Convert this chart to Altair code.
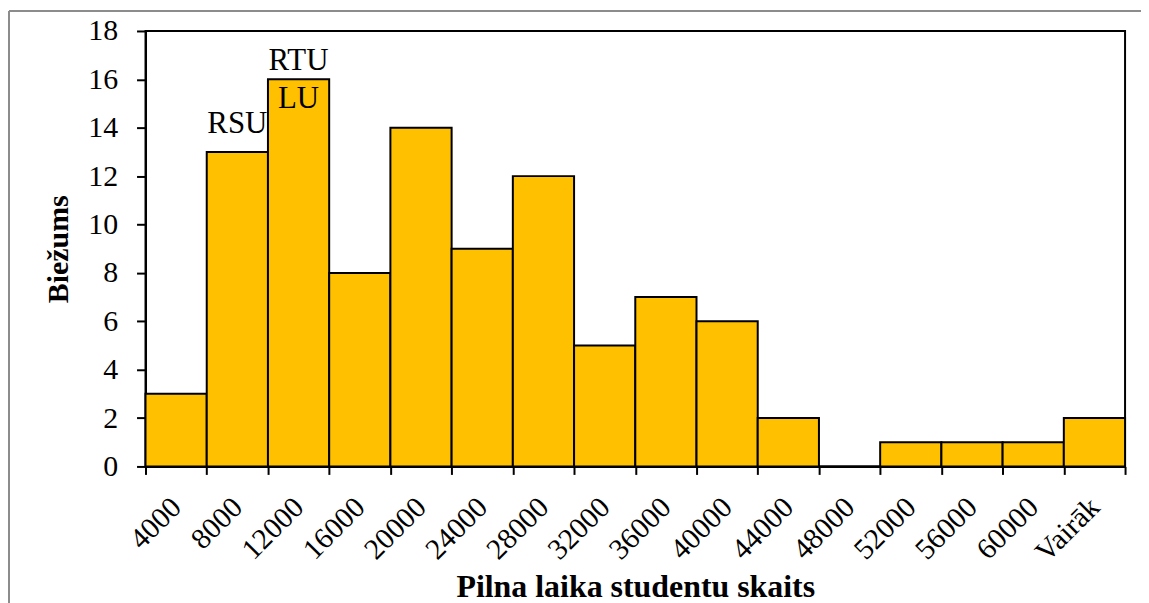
import json
import altair as alt
import pandas as pd

# ---- data ----
bin_labels = ["4000", "8000", "12000", "16000", "20000", "24000", "28000", "32000",
              "36000", "40000", "44000", "48000", "52000", "56000", "60000", "Vairāk"]
counts = [3, 13, 16, 8, 14, 9, 12, 5, 7, 6, 2, 0, 1, 1, 1, 2]

ann_text = ["RSU", "RTU", "LU"]
ann_bin = [1, 2, 2]
ann_count = [13, 16, 16]

x_title = "Pilna laika studentu skaits"
y_title = "Biežums"

# ---- tables ----
bars = pd.DataFrame({
    "idx": list(range(len(counts))),
    "idx2": [i + 1 for i in range(len(counts))],
    "label": bin_labels,
    "count": counts,
})
ann = pd.DataFrame({
    "text": ann_text,
    "xc": [b + 0.5 for b in ann_bin],
    "count": ann_count,
})

W, H = 983, 437
FONT = "Liberation Serif"
n = len(counts)
label_arr = json.dumps(bin_labels + [""], ensure_ascii=False)

xscale = alt.Scale(domain=[0, n], nice=False, zero=False)
yscale = alt.Scale(domain=[0, 18], nice=False)

base_bar = alt.Chart(bars).mark_bar(
    color="#FFC000", stroke="black", strokeWidth=2
).encode(
    x=alt.X("idx:Q", scale=xscale, title=x_title,
            axis=alt.Axis(values=list(range(n + 1)), labelExpr=f"{label_arr}[datum.value]",
                          labelAngle=-45, labelAlign="right", labelBaseline="middle",
                          labelOffset=W / n / 2, labelFlush=False, labelOverlap=False,
                          tickSize=8, labelPadding=28, grid=False,
                          labelFont=FONT, labelFontSize=29.5, labelColor="black",
                          titleFont=FONT, titleFontSize=32, titleFontWeight="bold",
                          titleColor="black", titlePadding=5)),
    x2="idx2:Q",
    y=alt.Y("count:Q", scale=yscale, title=y_title,
            axis=alt.Axis(values=list(range(0, 19, 2)), tickSize=9, labelPadding=19,
                          grid=False, labelFont=FONT, labelFontSize=30, labelColor="black",
                          titleFont=FONT, titleFontSize=30, titleFontWeight="bold",
                          titleColor="black", titlePadding=14)),
    y2=alt.datum(0),
)

def ann_layer(i, dy):
    return alt.Chart(ann.iloc[[i]]).mark_text(
        font=FONT, fontSize=31, color="black", align="center", baseline="alphabetic", dy=dy
    ).encode(
        x=alt.X("xc:Q", scale=xscale),
        y=alt.Y("count:Q", scale=yscale),
        text="text:N",
    )

frame_df = pd.DataFrame({"k": [0]})
frame_top = alt.Chart(frame_df).mark_rule(color="#8c8c8c", strokeWidth=2).encode(
    x=alt.value(-137), x2=alt.value(W + 20), y=alt.value(-20))
frame_left = alt.Chart(frame_df).mark_rule(color="#8c8c8c", strokeWidth=2).encode(
    x=alt.value(-137), y=alt.value(-20), y2=alt.value(H + 200))

chart = alt.layer(
    frame_top, frame_left, base_bar,
    ann_layer(0, -19), ann_layer(1, -9), ann_layer(2, 29),
).properties(
    width=W, height=H,
    padding={"left": 138, "top": 22, "right": 16, "bottom": 136},
    autosize="none",
).configure_view(
    stroke="black", strokeWidth=2
).configure_axis(
    domainColor="black", domainWidth=2, tickColor="black", tickWidth=2
)

chart.save("out.html", embed_options={"renderer": "svg", "actions": False})
